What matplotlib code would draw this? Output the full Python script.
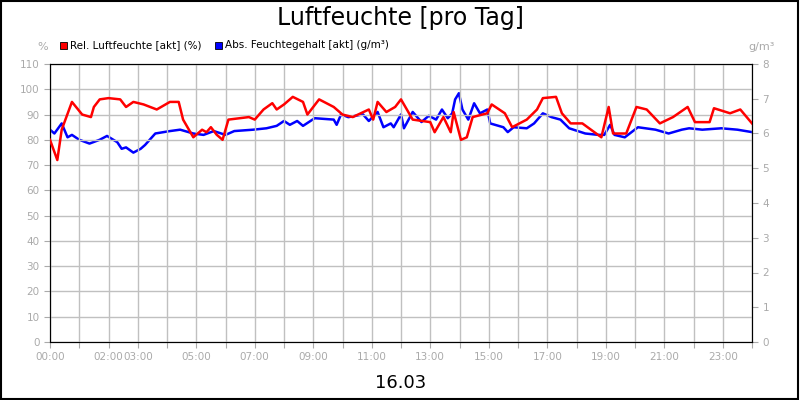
import matplotlib
matplotlib.use("Agg")
import matplotlib.pyplot as plt
from matplotlib.patches import Rectangle

rh_t = [0, 0.25, 0.4, 0.75, 1.1, 1.4, 1.5, 1.7, 2.0, 2.4, 2.6, 2.85, 3.2, 3.65, 4.1, 4.4, 4.55, 4.9, 5.2, 5.35, 5.5, 5.7, 5.9, 6.1, 6.8, 7.0, 7.3, 7.6, 7.75, 8.0, 8.3, 8.65, 8.8, 9.2, 9.7, 10.0, 10.35, 10.9, 11.05, 11.2, 11.5, 11.8, 12.0, 12.4, 13.0, 13.15, 13.45, 13.7, 13.8, 14.05, 14.25, 14.45, 14.95, 15.1, 15.55, 15.8, 16.3, 16.65, 16.85, 17.3, 17.5, 17.8, 18.2, 18.85, 19.1, 19.25, 19.7, 20.05, 20.4, 20.85, 21.3, 21.8, 22.05, 22.55, 22.7, 23.25, 23.6, 24.0]
rh_v = [80, 72, 84, 95, 90, 89, 93, 96, 96.5, 96, 93, 95, 94, 92, 95, 95, 88, 81, 84, 83, 85, 82, 80, 88, 89, 88, 92, 94.5, 92, 94, 97, 95, 90, 96, 93, 90, 89, 92, 88, 95, 91, 93, 96, 88, 87, 83, 89, 83, 91, 80, 81, 89, 90.5, 94, 90.5, 85, 88, 92, 96.5, 97, 90.5, 86.5, 86.5, 81, 93, 82.5, 82.5, 93, 92, 86.5, 89, 93, 87, 87, 92.5, 90.5, 92, 86.5]

ah_t = [0, 0.15, 0.4, 0.6, 0.75, 1.0, 1.35, 1.7, 1.95, 2.3, 2.45, 2.6, 2.85, 3.1, 3.25, 3.6, 4.1, 4.45, 4.9, 5.25, 5.6, 6.0, 6.3, 6.95, 7.4, 7.75, 8.0, 8.2, 8.45, 8.65, 9.05, 9.7, 9.8, 9.95, 10.2, 10.7, 10.9, 11.2, 11.4, 11.65, 11.75, 12.0, 12.1, 12.4, 12.7, 12.95, 13.2, 13.4, 13.6, 13.75, 13.85, 13.98, 14.1, 14.3, 14.5, 14.7, 14.95, 15.05, 15.5, 15.65, 15.85, 16.3, 16.55, 16.85, 17.15, 17.45, 17.75, 18.3, 18.75, 18.95, 19.15, 19.3, 19.65, 20.1, 20.7, 21.15, 21.6, 21.85, 22.3, 22.95, 23.5, 24.0]
ah_v = [6.11, 6.0, 6.29, 5.89, 5.96, 5.82, 5.71, 5.82, 5.93, 5.75, 5.56, 5.6, 5.45, 5.56, 5.67, 6.0, 6.07, 6.11, 6.0, 5.96, 6.07, 5.96, 6.07, 6.11, 6.15, 6.22, 6.36, 6.25, 6.36, 6.22, 6.44, 6.4, 6.25, 6.55, 6.47, 6.55, 6.36, 6.62, 6.18, 6.29, 6.18, 6.55, 6.15, 6.62, 6.33, 6.51, 6.4, 6.69, 6.44, 6.58, 6.98, 7.16, 6.69, 6.4, 6.87, 6.58, 6.69, 6.29, 6.18, 6.04, 6.18, 6.15, 6.29, 6.58, 6.47, 6.4, 6.15, 6.0, 5.96, 5.96, 6.25, 5.96, 5.89, 6.18, 6.11, 6.0, 6.11, 6.15, 6.11, 6.15, 6.11, 6.04]

tick_labels = {0: "00:00", 2: "02:00", 3: "03:00", 5: "05:00", 7: "07:00", 9: "09:00", 11: "11:00",
               13: "13:00", 15: "15:00", 17: "17:00", 19: "19:00", 21: "21:00", 23: "23:00"}

fig = plt.figure(figsize=(8, 4), dpi=100)
fig.patches.append(Rectangle((0.001, 0.002), 0.997, 0.995, transform=fig.transFigure,
                             fill=False, edgecolor="black", linewidth=1.5))
ax = fig.add_axes([50/800, 58/400, 702/800, 278/400])
ax2 = ax.twinx()
gray = "#aaaaaa"
ax.plot(rh_t, rh_v, color="#ff0000", lw=1.8, zorder=3)
ax2.plot(ah_t, ah_v, color="#0000ff", lw=1.8)
ax.set_zorder(ax2.get_zorder() + 1)
ax.patch.set_visible(False)
ax.set_xlim(0, 24)
ax.set_ylim(0, 110)
ax2.set_ylim(0, 8)
ax.set_yticks(range(0, 111, 10))
ax2.set_yticks(range(0, 9))
ax.set_xticks(range(0, 25))
ax.set_xticklabels([tick_labels.get(h, "") for h in range(25)])
ax.grid(True, color="#c0c0c0", lw=1)
for a in (ax, ax2):
    a.tick_params(colors=gray, labelsize=7.5, length=4, labelcolor=gray)
    for s in a.spines.values():
        s.set_color("black")
ax.set_xlabel("16.03", fontsize=13, color="black", labelpad=8)
fig.text(0.5, 0.955, "Luftfeuchte [pro Tag]", ha="center", va="center", fontsize=17)
fig.text(43/800, 1-47/400, "%", ha="center", va="center", fontsize=8, color=gray)
fig.text(762/800, 1-47/400, "g/m³", ha="center", va="center", fontsize=8, color=gray)
for x0, col, lab in [(60, "#ff0000", "Rel. Luftfeuchte [akt] (%)"), (215, "#0000ff", "Abs. Feuchtegehalt [akt] (g/m³)")]:
    fig.patches.append(Rectangle((x0/800, 1-49/400), 7/800, 7/400, transform=fig.transFigure,
                                 facecolor=col, edgecolor="black", lw=0.6))
    fig.text((x0+10)/800, 1-45/400, lab, fontsize=7.5, va="center")
fig.savefig("out.png", dpi=100)
